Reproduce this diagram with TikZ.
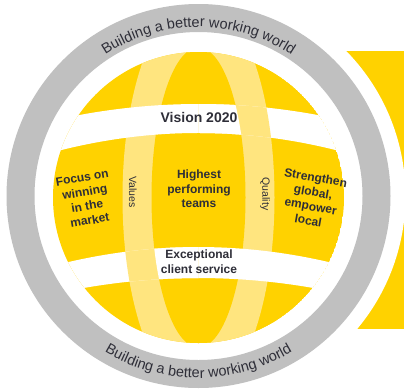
\documentclass[tikz,border=0pt]{standalone}
\usepackage{fontspec}
\setmainfont{Liberation Sans}
\usetikzlibrary{decorations.text,calc}
\definecolor{eyY}{HTML}{FFD200}
\definecolor{eyL}{HTML}{FFE57F}
\definecolor{ringG}{HTML}{C0C0C0}
\definecolor{txt}{HTML}{2E2E38}
\def\topband{(40,-123.5) .. controls (145.7,-97.5) and (251.3,-97.5) .. (357,-123.5) -- (357,-155.75) .. controls (251.3,-125.4) and (145.7,-125.4) .. (40,-155.75) -- cycle}
\def\botband{(40,-269.3) .. controls (145.7,-239.6) and (251.3,-239.6) .. (357,-269.3) -- (357,-297) .. controls (251.3,-271.7) and (145.7,-271.7) .. (40,-297) -- cycle}
\begin{document}
\begin{tikzpicture}[x=1pt,y=1pt,
  lbl/.style={text=txt, font=\bfseries\fontsize{12}{14.5}\selectfont, align=center, inner sep=0pt},
  thin lbl/.style={text=txt, font=\fontsize{10.5}{12}\selectfont, inner sep=0pt},
  arc text/.style={decorate, decoration={text along path, text align=center,
    text={|\fontsize{14.5}{17}\selectfont\color{txt}|Building a better working world}}}]
\useasboundingbox (0,0) rectangle (404,-389);
\coordinate (C) at (198.5,-196);
\coordinate (G) at (198.5,-197.5);
% right yellow block
\fill[eyY] (346,-51) rectangle (420,-329);
\fill[white] (C) circle[radius=207];
% grey ring
\fill[ringG, even odd rule] (C) circle[radius=192] (C) circle[radius=164];
% globe
\begin{scope}
  \clip (G) circle[radius=145.5];
  \fill[eyY] (G) circle[radius=145.5];
  \fill[eyL] (G) ellipse[x radius=76, y radius=200];
  \fill[eyY] (G) ellipse[x radius=47, y radius=150];
  \fill[white] \topband;
  \fill[white] \botband;
  \begin{scope}
    \clip \topband;
    \clip (198.5,0) rectangle (404,-389);
    \fill[eyL] (G) ellipse[x radius=76, y radius=200];
    \fill[white] (G) ellipse[x radius=47, y radius=150];
  \end{scope}
  \begin{scope}
    \clip \botband;
    \clip (0,0) rectangle (198.5,-389);
    \fill[eyL] (G) ellipse[x radius=76, y radius=200];
    \fill[white] (G) ellipse[x radius=47, y radius=150];
  \end{scope}
\end{scope}
% curved texts
\path[arc text] ($(C)+(160:169)$) arc[start angle=160, end angle=20, radius=169];
\path[arc text] ($(C)+(200:182)$) arc[start angle=200, end angle=340, radius=182];
% labels
\node[lbl, font=\bfseries\fontsize{14}{16}\selectfont] (vision) at (199,-117) {Vision 2020};
\node[lbl] (high) at (199,-189) {Highest\\performing\\teams};
\node[lbl, rotate=10] (focus) at (86,-199) {Focus on\\winning\\in the\\market};
\node[lbl, rotate=-10] (streng) at (312,-199) {Strengthen\\global,\\empower\\local};
\node[thin lbl, rotate=-90] (values) at (133,-192) {Values};
\node[thin lbl, rotate=-90] (quality) at (265,-194) {Quality};
\node[lbl] (exc) at (199,-261.5) {Exceptional\\client service};
\end{tikzpicture}
\end{document}
